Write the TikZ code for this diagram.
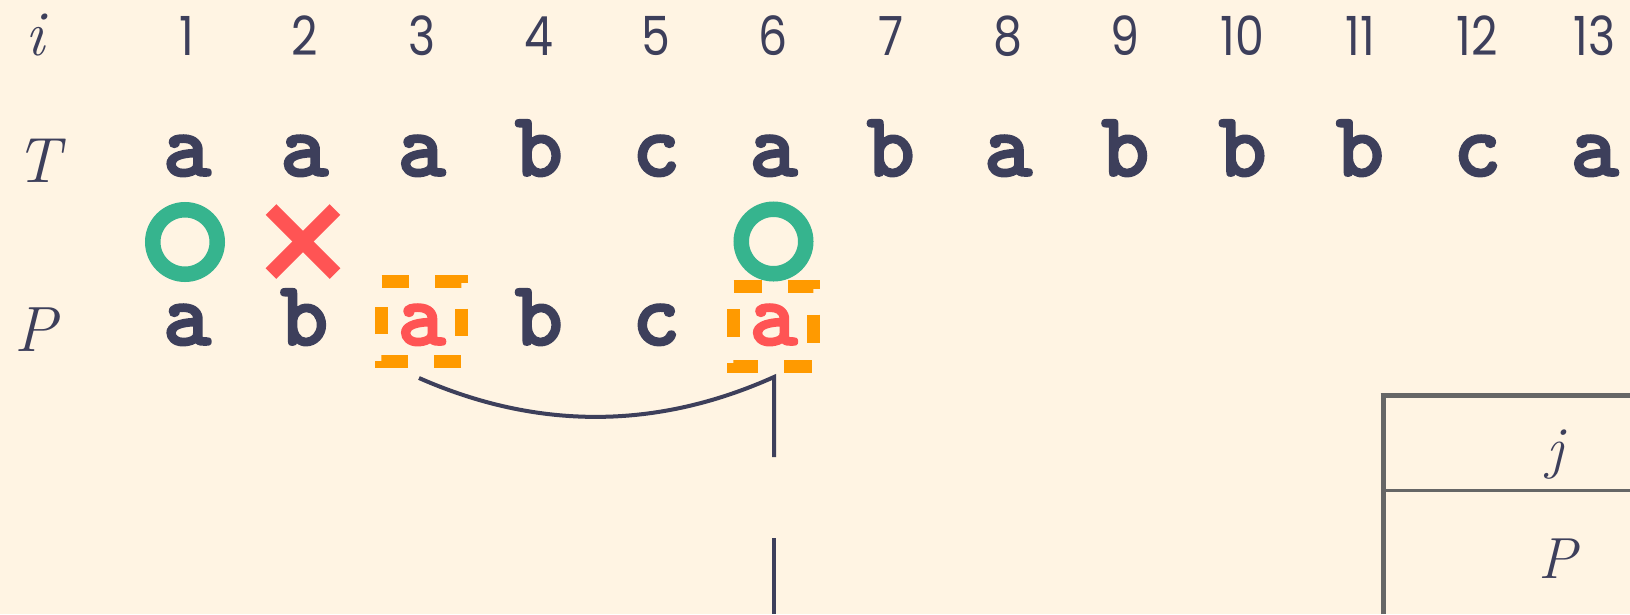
\documentclass[tikz,border=0pt]{standalone}
\usepackage{fontspec}
\newfontfamily\numfont[FakeStretch=0.85]{Poppins}
\newfontfamily\varfont{Latin Modern Roman}
\newfontfamily\lettfont{lmmonolt10-bold.otf}[FakeBold=2]
\definecolor{bg}{HTML}{FFF4E3}
\definecolor{ink}{HTML}{3D3F5B}
\definecolor{grn}{HTML}{36B48E}
\definecolor{rd}{HTML}{FF5454}
\definecolor{org}{HTML}{FF9A00}
\definecolor{tbl}{HTML}{666666}
\begin{document}
\begin{tikzpicture}[x=1pt,y=-1pt,
  lab/.style={anchor=base, inner sep=0, text=ink},
  numlab/.style={lab, font=\numfont\fontsize{54}{60}\selectfont},
  chr/.style={lab, font=\lettfont\fontsize{92}{100}\selectfont},
  var/.style={lab, font=\varfont\itshape\fontsize{64}{70}\selectfont},
  tvar/.style={lab, font=\varfont\itshape\fontsize{58}{64}\selectfont},
  okmark/.style={draw=grn, line width=15.5, circle, minimum size=64.5, inner sep=0},
  nomark/.style={draw=rd, line width=15, line cap=butt},
  hlarea/.style={minimum width=80, minimum height=80, inner sep=0, outer sep=0},
  hlbox/.style={draw=org, line width=13, line cap=butt},
  link/.style={draw=ink, line width=4},
  rule/.style={draw=tbl}
]
\useasboundingbox[fill=bg] (0,0) rectangle (1630,614);
% row labels
\node[var] (lbl-i) at (35,55) {i};
\node[var] (lbl-T) at (38,182) {T};
\node[var] (lbl-P) at (36,351) {P};
% indices
\foreach \k in {1,...,13}
  \node[numlab] (d\k) at ({187+117.3*(\k-1)},55) {\k};
% text T
\foreach \ch [count=\k] in {a,a,a,b,c,a,b,a,b,b,b,c,a}
  \node[chr] (t\k) at ({187+117.3*(\k-1)},176) {\ch};
% highlight boxes
\node[hlarea] (box3) at (421.6,321.5) {};
\node[hlarea] (box6) at (773.5,326.5) {};
\draw[hlbox, dash pattern=on 27pt off 26.5pt] (box3.north west) -- (box3.north east) -- (box3.south east) -- (box3.south west) -- cycle;
\draw[hlbox, dash pattern=on 28pt off 26pt] (box6.north west) -- (box6.north east) -- (box6.south east) -- (box6.south west) -- cycle;
% pattern P
\foreach \ch/\st [count=\k] in {a/ink,b/ink,a/rd,b/ink,c/ink,a/rd}
  \node[chr,text=\st] (p\k) at ({187+117.3*(\k-1)},345) {\ch};
% match marks
\node[okmark] (ok1) at (185,242) {};
\node[okmark] (ok6) at (773.5,241.5) {};
\coordinate (no2) at (303,241.5);
\draw[nomark] ([shift={(-32,-32)}]no2) -- ([shift={(32,32)}]no2);
\draw[nomark] ([shift={(-32,32)}]no2) -- ([shift={(32,-32)}]no2);
% link curve
\coordinate (arcS) at (419,378);
\coordinate (arcE) at (774,377);
\coordinate (gapA) at (774,457);
\coordinate (gapB) at (774,538);
\coordinate (bot) at (774,614);
\draw[link] (arcS) .. controls (537,430) and (656,430) .. (arcE) -- (gapA);
\draw[link] (gapB) -- (bot);
% table
\coordinate (tblTL) at (1383,395.5);
\coordinate (tblBL) at (1383,614);
\coordinate (tblTR) at (1630,395.5);
\coordinate (tblML) at (1383,490);
\coordinate (tblMR) at (1630,490);
\draw[rule, line width=5] (tblBL) -- ([yshift=2.5pt]tblTL) ;
\draw[rule, line width=5] ([xshift=-2.5pt]tblTL) -- (tblTR);
\draw[rule, line width=3] (tblML) -- (tblMR);
\node[tvar] (tj) at (1555,467) {j};
\node[tvar] (tP) at (1558,578) {P};
\end{tikzpicture}
\end{document}
